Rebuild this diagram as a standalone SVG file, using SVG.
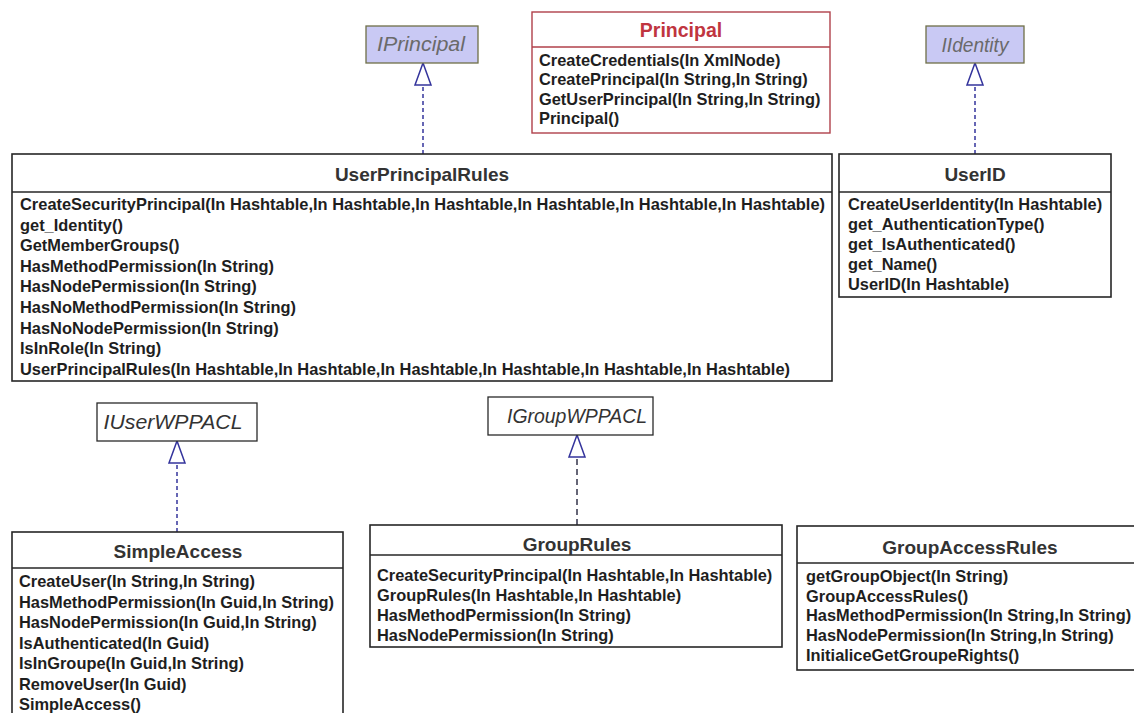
<svg xmlns="http://www.w3.org/2000/svg" width="1134" height="713" viewBox="0 0 1134 713">
  <defs>
    <style>
      .bg { fill: #ffffff; }
      .cls { fill: #ffffff; stroke: #262626; stroke-width: 1.6; }
      .sep { stroke: #262626; stroke-width: 1.6; }
      .cls-red { fill: #ffffff; stroke: #b0404a; stroke-width: 1.4; }
      .sep-red { stroke: #b0404a; stroke-width: 1.4; }
      .iface { fill: #ffffff; stroke: #2a2a2a; stroke-width: 1.3; }
      .iface-hl { fill: #c9c9f4; stroke: #6f6f48; stroke-width: 1.3; }
      .title { font-family: "Liberation Sans", Arial, sans-serif; font-weight: bold; font-size: 19px; fill: #333333; text-anchor: middle; }
      .title-red { font-family: "Liberation Sans", Arial, sans-serif; font-weight: bold; font-size: 19.5px; fill: #c0353f; text-anchor: middle; }
      .op { font-family: "Liberation Sans", Arial, sans-serif; font-weight: bold; font-size: 16.4px; fill: #1e1e1e; }
      .iname { font-family: "Liberation Sans", Arial, sans-serif; font-style: italic; font-size: 19.5px; fill: #333333; text-anchor: middle; }
      .iname-hl { font-family: "Liberation Sans", Arial, sans-serif; font-style: italic; font-size: 19.5px; fill: #6a6a6a; text-anchor: middle; }
      .real { fill: none; stroke: #34349c; stroke-width: 1.5; stroke-dasharray: 4 3; }
      .real-dark { fill: none; stroke: #33334a; stroke-width: 1.5; stroke-dasharray: 6 4; }
    </style>
    <marker id="realize" markerUnits="userSpaceOnUse" markerWidth="24" markerHeight="18" viewBox="0 -9 24 18" refX="22" refY="0" orient="auto" overflow="visible">
      <path d="M0,-8 L22,0 L0,8 Z" fill="#ffffff" stroke="#34349c" stroke-width="1.5" stroke-linejoin="miter"/>
    </marker>
  </defs>

  <rect class="bg" x="0" y="0" width="1134" height="713"/>

  <!-- realization connectors: class -> interface -->
  <g id="connectors">
    <line class="real" x1="423" y1="154" x2="423" y2="63" marker-end="url(#realize)"/>
    <line class="real" x1="975" y1="154" x2="975" y2="63" marker-end="url(#realize)"/>
    <line class="real" x1="177" y1="532" x2="177" y2="441" marker-end="url(#realize)"/>
    <line class="real-dark" x1="577" y1="525" x2="577" y2="435" marker-end="url(#realize)"/>
  </g>

  <!-- interfaces -->
  <g id="IPrincipal">
    <rect class="iface-hl" x="366" y="26" width="112" height="37"/>
    <text class="iname-hl" x="421" y="51" textLength="88" lengthAdjust="spacingAndGlyphs">IPrincipal</text>
  </g>
  <g id="IIdentity">
    <rect class="iface-hl" x="926" y="26" width="98" height="37"/>
    <text class="iname-hl" x="975" y="52" textLength="67" lengthAdjust="spacingAndGlyphs">IIdentity</text>
  </g>
  <g id="IUserWPPACL">
    <rect class="iface" x="97" y="403" width="160" height="38"/>
    <text class="iname" x="173" y="429" textLength="139" lengthAdjust="spacingAndGlyphs">IUserWPPACL</text>
  </g>
  <g id="IGroupWPPACL">
    <rect class="iface" x="488" y="397" width="165" height="38"/>
    <text class="iname" x="577" y="423" textLength="140" lengthAdjust="spacingAndGlyphs">IGroupWPPACL</text>
  </g>

  <!-- Principal -->
  <g id="Principal">
    <rect class="cls-red" x="532" y="12" width="298" height="121"/>
    <line class="sep-red" x1="532" y1="47" x2="830" y2="47"/>
    <text class="title-red" x="681" y="37">Principal</text>
    <text class="op" x="539" y="66">CreateCredentials(In XmlNode)</text>
    <text class="op" x="539" y="85.3">CreatePrincipal(In String,In String)</text>
    <text class="op" x="539" y="104.6">GetUserPrincipal(In String,In String)</text>
    <text class="op" x="539" y="124">Principal()</text>
  </g>

  <!-- UserPrincipalRules -->
  <g id="UserPrincipalRules">
    <rect class="cls" x="12" y="154" width="820" height="227"/>
    <line class="sep" x1="12" y1="192" x2="832" y2="192"/>
    <text class="title" x="422" y="181">UserPrincipalRules</text>
    <text class="op" x="20" y="210" textLength="805" lengthAdjust="spacingAndGlyphs">CreateSecurityPrincipal(In Hashtable,In Hashtable,In Hashtable,In Hashtable,In Hashtable,In Hashtable)</text>
    <text class="op" x="20" y="230.6">get_Identity()</text>
    <text class="op" x="20" y="251.2">GetMemberGroups()</text>
    <text class="op" x="20" y="271.8">HasMethodPermission(In String)</text>
    <text class="op" x="20" y="292.4">HasNodePermission(In String)</text>
    <text class="op" x="20" y="313">HasNoMethodPermission(In String)</text>
    <text class="op" x="20" y="333.6">HasNoNodePermission(In String)</text>
    <text class="op" x="20" y="354.2">IsInRole(In String)</text>
    <text class="op" x="20" y="374.8" textLength="770" lengthAdjust="spacingAndGlyphs">UserPrincipalRules(In Hashtable,In Hashtable,In Hashtable,In Hashtable,In Hashtable,In Hashtable)</text>
  </g>

  <!-- UserID -->
  <g id="UserID">
    <rect class="cls" x="839" y="154" width="272" height="143"/>
    <line class="sep" x1="839" y1="192" x2="1111" y2="192"/>
    <text class="title" x="975" y="181">UserID</text>
    <text class="op" x="848" y="210">CreateUserIdentity(In Hashtable)</text>
    <text class="op" x="848" y="230">get_AuthenticationType()</text>
    <text class="op" x="848" y="250">get_IsAuthenticated()</text>
    <text class="op" x="848" y="270">get_Name()</text>
    <text class="op" x="848" y="290">UserID(In Hashtable)</text>
  </g>

  <!-- SimpleAccess (continues past the lower edge) -->
  <g id="SimpleAccess">
    <rect class="cls" x="12" y="532" width="331" height="200"/>
    <line class="sep" x1="12" y1="568" x2="343" y2="568"/>
    <text class="title" x="178" y="558">SimpleAccess</text>
    <text class="op" x="19" y="587">CreateUser(In String,In String)</text>
    <text class="op" x="19" y="607.5">HasMethodPermission(In Guid,In String)</text>
    <text class="op" x="19" y="628">HasNodePermission(In Guid,In String)</text>
    <text class="op" x="19" y="648.5">IsAuthenticated(In Guid)</text>
    <text class="op" x="19" y="669">IsInGroupe(In Guid,In String)</text>
    <text class="op" x="19" y="689.5">RemoveUser(In Guid)</text>
    <text class="op" x="19" y="710">SimpleAccess()</text>
  </g>

  <!-- GroupRules -->
  <g id="GroupRules">
    <rect class="cls" x="370" y="525" width="412" height="122"/>
    <line class="sep" x1="370" y1="555" x2="782" y2="555"/>
    <text class="title" x="577" y="551">GroupRules</text>
    <text class="op" x="377" y="581">CreateSecurityPrincipal(In Hashtable,In Hashtable)</text>
    <text class="op" x="377" y="601">GroupRules(In Hashtable,In Hashtable)</text>
    <text class="op" x="377" y="621">HasMethodPermission(In String)</text>
    <text class="op" x="377" y="641">HasNodePermission(In String)</text>
  </g>

  <!-- GroupAccessRules (continues past the right edge) -->
  <g id="GroupAccessRules">
    <rect class="cls" x="797" y="526" width="360" height="144"/>
    <line class="sep" x1="797" y1="563" x2="1140" y2="563"/>
    <text class="title" x="970" y="554">GroupAccessRules</text>
    <text class="op" x="806" y="582">getGroupObject(In String)</text>
    <text class="op" x="806" y="601.5">GroupAccessRules()</text>
    <text class="op" x="806" y="621">HasMethodPermission(In String,In String)</text>
    <text class="op" x="806" y="641">HasNodePermission(In String,In String)</text>
    <text class="op" x="806" y="661">InitialiceGetGroupeRights()</text>
  </g>
</svg>
